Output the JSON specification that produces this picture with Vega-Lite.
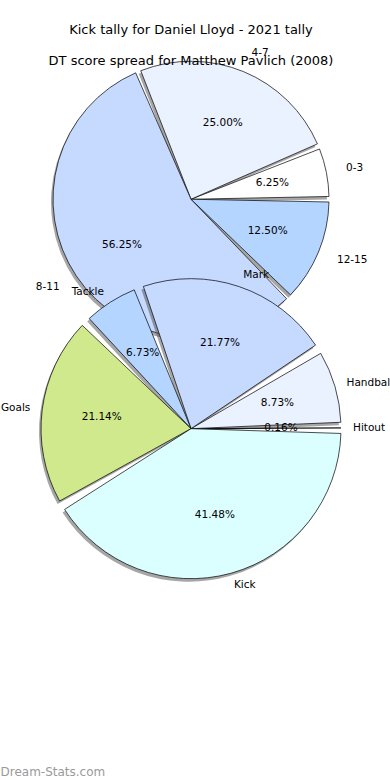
{
  "$schema": "https://vega.github.io/schema/vega-lite/v6.json",
  "width": 390,
  "height": 780,
  "autosize": {"type": "fit", "contains": "padding"},
  "padding": {"top": 0, "left": 0, "right": 0, "bottom": 3},
  "background": "white",
  "config": {"view": {"stroke": null}, "font": "DejaVu Sans"},
  "title": {
    "text": ["Kick tally for Daniel Lloyd - 2021 tally", "DT score spread for Matthew Pavlich (2008)"],
    "fontSize": 13,
    "font": "DejaVu Sans",
    "fontWeight": "normal",
    "lineHeight": 31,
    "anchor": "middle",
    "frame": "group",
    "color": "#000000",
    "offset": -68
  },
  "datasets": {
    "dt": [
      {"pie": "DT score spread", "label": "0-3", "share": 0.0625},
      {"pie": "DT score spread", "label": "4-7", "share": 0.25},
      {"pie": "DT score spread", "label": "8-11", "share": 0.5625},
      {"pie": "DT score spread", "label": "12-15", "share": 0.125}
    ],
    "kick": [
      {"pie": "Kick tally", "label": "Hitout", "share": 0.0016},
      {"pie": "Kick tally", "label": "Handball", "share": 0.0873},
      {"pie": "Kick tally", "label": "Mark", "share": 0.2177},
      {"pie": "Kick tally", "label": "Tackle", "share": 0.0673},
      {"pie": "Kick tally", "label": "Goals", "share": 0.2114},
      {"pie": "Kick tally", "label": "Kick", "share": 0.4148}
    ]
  },
  "encoding": {
    "x": {
      "datum": "all",
      "type": "nominal",
      "scale": {"type": "point"},
      "axis": {
        "title": "Dream-Stats.com",
        "labels": false,
        "ticks": false,
        "domain": false,
        "grid": false,
        "titleAnchor": "start",
        "titleAlign": "left",
        "titleColor": "#9a9a9a",
        "titleFont": "DejaVu Sans",
        "titleFontSize": 12,
        "titleFontWeight": "normal",
        "titlePadding": 2
      }
    },
    "y": {
      "field": "pie",
      "type": "nominal",
      "scale": {"type": "band", "domain": ["DT score spread", "Kick tally"], "paddingInner": 0, "paddingOuter": 0.665, "align": 0.277},
      "axis": null
    },
    "theta": {
      "field": "share",
      "type": "quantitative",
      "stack": true,
      "scale": {"domain": [0, 1], "range": [1.5707963, -4.712389]}
    },
    "order": {"field": "i", "type": "quantitative"}
  },
  "layer": [
    {
      "data": {"name": "dt"},
      "transform": [{"window": [{"op": "row_number", "as": "i"}]}],
      "layer": [
        {
          "mark": {"type": "arc", "outerRadius": 138, "padAngle": 0.04, "color": "#4d4d4d", "opacity": 0.5, "xOffset": -2, "yOffset": 3}
        },
        {
          "mark": {"type": "arc", "outerRadius": 138, "padAngle": 0.04, "stroke": "#000000", "strokeWidth": 0.7},
          "encoding": {
            "color": {
              "field": "label",
              "type": "nominal",
              "legend": null,
              "scale": {
                "domain": ["0-3", "4-7", "8-11", "12-15", "Hitout", "Handball", "Mark", "Tackle", "Goals", "Kick"],
                "range": ["#FFFFFF", "#EAF1FF", "#C6D9FF", "#B4D5FF", "#FFFFFF", "#EAF1FF", "#C6D9FF", "#B4D5FF", "#D0E98C", "#DBFFFF"]
              }
            }
          }
        },
        {
          "mark": {"type": "text", "radius": 83, "fontSize": 10.5, "color": "#000000", "baseline": "middle", "align": "center"},
          "encoding": {"text": {"field": "share", "type": "quantitative", "format": ".2%"}}
        },
        {
          "mark": {"type": "text", "radius": 158, "fontSize": 10.5, "color": "#000000", "baseline": "middle",
            "align": {"expr": "cos(PI*(datum.share_start+datum.share_end)) >= 0 ? 'left' : 'right'"}},
          "encoding": {"text": {"field": "label", "type": "nominal"}}
        }
      ]
    },
    {
      "data": {"name": "kick"},
      "transform": [{"window": [{"op": "row_number", "as": "i"}]}],
      "layer": [
        {
          "mark": {"type": "arc", "outerRadius": 150, "padAngle": 0.065, "color": "#4d4d4d", "opacity": 0.5, "xOffset": -2, "yOffset": 3}
        },
        {
          "mark": {"type": "arc", "outerRadius": 150, "padAngle": 0.065, "stroke": "#000000", "strokeWidth": 0.7},
          "encoding": {
            "color": {
              "field": "label",
              "type": "nominal",
              "legend": null,
              "scale": {
                "domain": ["0-3", "4-7", "8-11", "12-15", "Hitout", "Handball", "Mark", "Tackle", "Goals", "Kick"],
                "range": ["#FFFFFF", "#EAF1FF", "#C6D9FF", "#B4D5FF", "#FFFFFF", "#EAF1FF", "#C6D9FF", "#B4D5FF", "#D0E98C", "#DBFFFF"]
              }
            }
          }
        },
        {
          "mark": {"type": "text", "radius": 90, "fontSize": 10.5, "color": "#000000", "baseline": "middle", "align": "center"},
          "encoding": {"text": {"field": "share", "type": "quantitative", "format": ".2%"}}
        },
        {
          "mark": {"type": "text", "radius": 162, "fontSize": 10.5, "color": "#000000", "baseline": "middle",
            "align": {"expr": "cos(PI*(datum.share_start+datum.share_end)) >= 0 ? 'left' : 'right'"}},
          "encoding": {"text": {"field": "label", "type": "nominal"}}
        }
      ]
    }
  ]
}
